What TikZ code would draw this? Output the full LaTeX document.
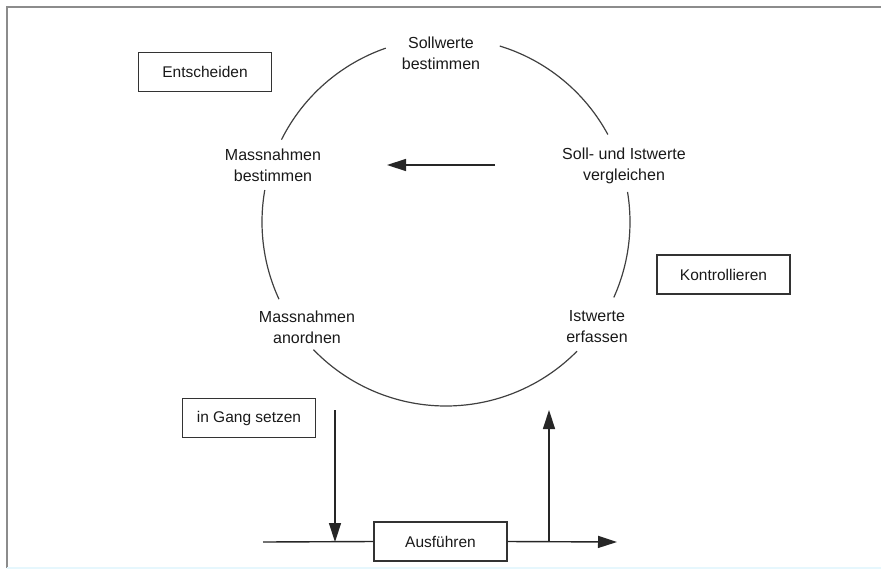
\documentclass[tikz,border=0pt]{standalone}
\usepackage{fontspec}
\setmainfont{Liberation Sans}
\usetikzlibrary{arrows.meta}
\begin{document}
\begin{tikzpicture}[x=1pt,y=-1pt,
  lbl/.style={font=\fontsize{16}{21}\selectfont, align=center, inner sep=0pt, text=black!90},
  boxnode/.style={draw=black!80, line width=1.4pt, minimum width=133pt, minimum height=39pt, inner sep=0pt, font=\fontsize{15.5}{18}\selectfont, text=black!90},
  ring/.style={draw=black!75, line width=1.2pt},
  plain/.style={draw=black!85, line width=1.4pt},
  flow/.style={draw=black!85, line width=1.4pt, -{Triangle[length=19pt,width=12pt]}},
]
\useasboundingbox (0,0) rectangle (881,574);
% frame
\draw[black!45, line width=1.5pt] (7,568) -- (7,7) -- (881,7);
\draw[cyan!10, line width=1.5pt] (7,568) -- (881,568);
% cycle labels
\node[lbl] (soll)  at (441,53)  {Sollwerte\\bestimmen};
\node[lbl] (mbest) at (273,165) {Massnahmen\\bestimmen};
\node[lbl] (vergl) at (624,166) {Soll- und Istwerte\\vergleichen};
\node[lbl] (mano)  at (307,327) {Massnahmen\\anordnen};
\node[lbl] (ist)   at (597,327) {Istwerte\\erfassen};
% boxes
\node[boxnode] (ent)  at (205,72)     {Entscheiden};
\node[boxnode] (kon)  at (723.5,274.5) {Kontrollieren};
\node[boxnode] (gang) at (249,418)    {in Gang setzen};
\node[boxnode] (aus)  at (440.5,541.5) {Ausführen};
% circle arcs
\coordinate (c) at (446,222);
\draw[ring] ([shift={(c)}]-73:184) arc[start angle=-73, end angle=-28.4, radius=184];
\draw[ring] ([shift={(c)}]-9.4:184) arc[start angle=-9.4, end angle=24.2, radius=184];
\draw[ring] ([shift={(c)}]44.6:184) arc[start angle=44.6, end angle=136.1, radius=184];
\draw[ring] ([shift={(c)}]155.2:184) arc[start angle=155.2, end angle=190, radius=184];
\draw[ring] ([shift={(c)}]206.6:184) arc[start angle=206.6, end angle=250.9, radius=184];
% middle arrow
\coordinate (ma1) at (495,165);
\coordinate (ma2) at (387,165);
\draw[flow] (ma1) -- (ma2);
% process line
\coordinate (hl) at (263,542);
\coordinate (hr) at (617,542);
\draw[plain] (hl) -- (aus.west);
\draw[flow] (aus.east) -- (hr);
% in/out arrows
\coordinate (dtop) at (335,410);
\coordinate (dbot) at (335,542);
\draw[flow] (dtop) -- (dbot);
\coordinate (ubot) at (549,542);
\coordinate (utop) at (549,410);
\draw[flow] (ubot) -- (utop);
\end{tikzpicture}
\end{document}
